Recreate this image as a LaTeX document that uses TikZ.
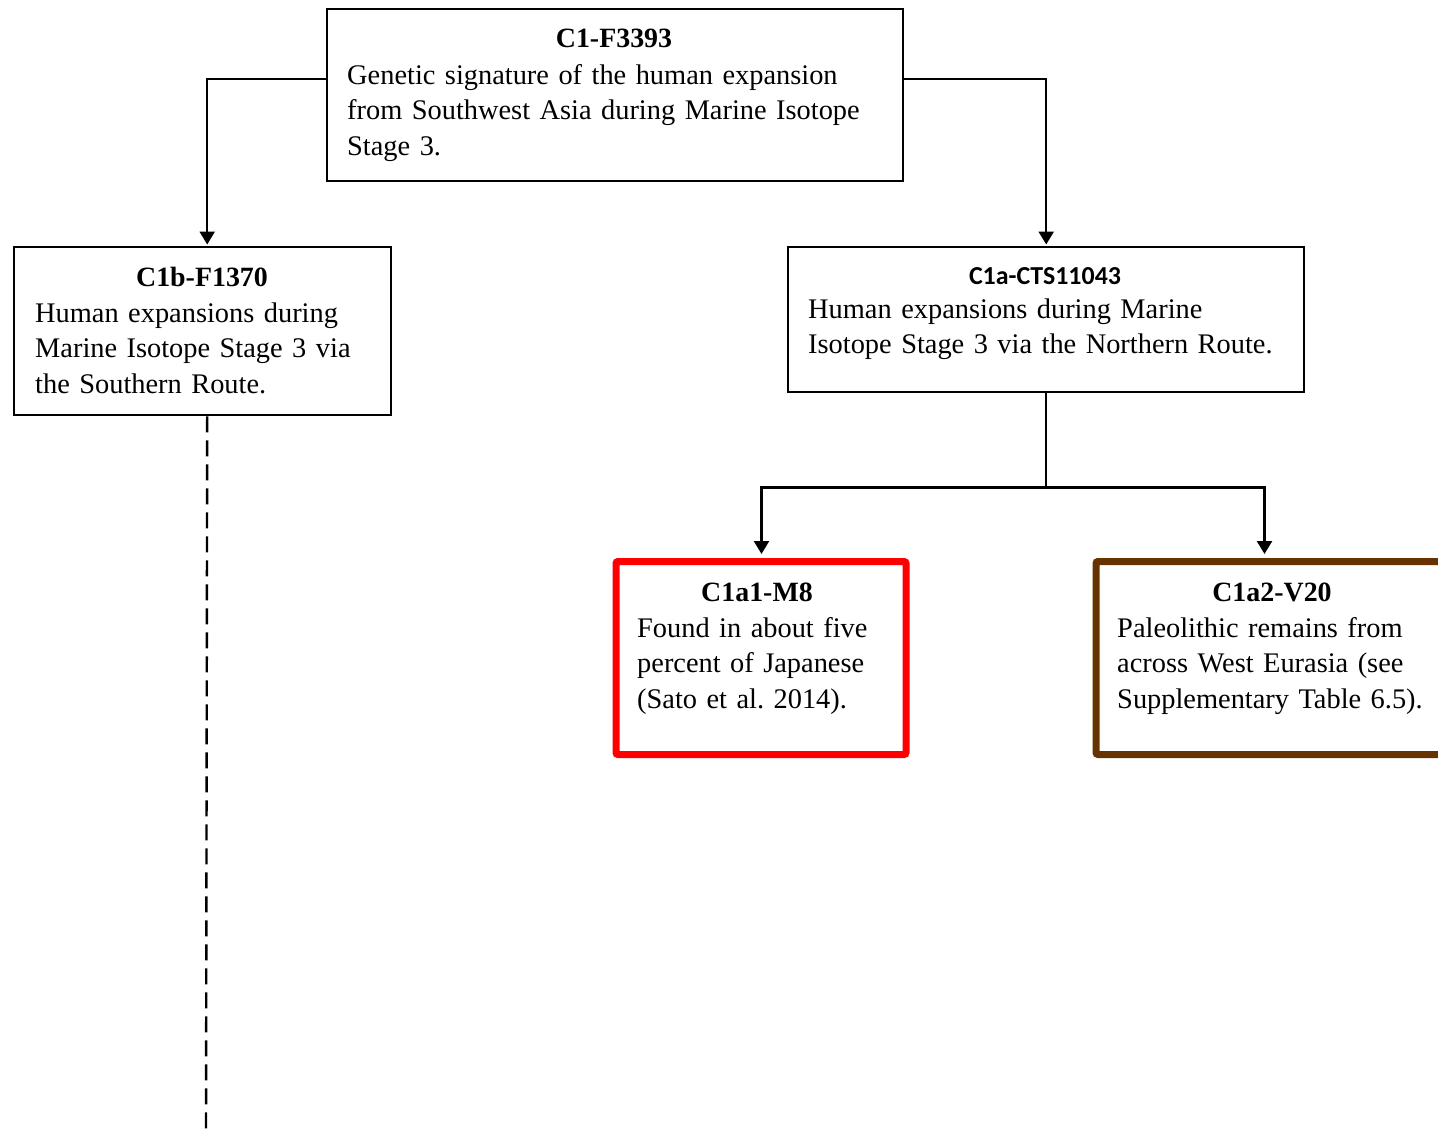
\documentclass[tikz,border=0pt]{standalone}
\usepackage{fontspec}
\setmainfont{Liberation Serif}
\newfontfamily\calib{Carlito}
\usetikzlibrary{arrows.meta}
\definecolor{brownc}{RGB}{102,51,0}
\definecolor{redc}{RGB}{255,0,0}
\begin{document}
\frenchspacing
\begin{tikzpicture}[x=1bp,y=-1bp,
  box/.style={draw=black,line width=2.4bp,rectangle,inner sep=0,anchor=north west},
  ttl/.style={font=\fontsize{28}{36}\selectfont\bfseries,anchor=base,inner sep=0},
  body/.style={font=\fontsize{28.5}{36}\selectfont\frenchspacing,anchor=base west,inner sep=0,text width=#1,align=left},
  conn/.style={line width=2.4bp,-{Triangle[length=13bp,width=15bp]}},
  line/.style={line width=2.4bp},
]
\useasboundingbox (0,0) rectangle (1438,1131);
\clip (0,0) rectangle (1438,1131);

% boxes
\node[box,minimum width=576bp,minimum height=172bp] (top) at (326,8) {};
\node[box,minimum width=377bp,minimum height=168bp] (c1b) at (13,246) {};
\node[box,minimum width=516bp,minimum height=145bp] (c1a) at (787,246) {};
\node[box,draw=redc,line width=7bp,rounded corners=2bp,minimum width=290bp,minimum height=193bp] (c1a1) at (612.5,558) {};
\node[box,draw=brownc,line width=7bp,rounded corners=2bp,minimum width=360bp,minimum height=193bp] (c1a2) at (1092.5,558) {};

% texts
\node[ttl] (ttop) at (614,47) {C1-F3393};
\node[body=580bp] (btop) at (347,84) {Genetic signature of the human expansion\\from Southwest Asia during Marine Isotope\\Stage 3.};
\node[ttl] (tc1b) at (202,286) {C1b-F1370};
\node[body=360bp] (bc1b) at (35,322) {Human expansions during\\Marine Isotope Stage 3 via\\the Southern Route.};
\node[ttl,font=\fontsize{26}{36}\selectfont\calib\bfseries] (tc1a) at (1045,284) {C1a-CTS11043};
\node[body=490bp] (bc1a) at (808,318) {Human expansions during Marine\\Isotope Stage 3 via the Northern Route.};
\node[ttl] (tc1a1) at (757,601) {C1a1-M8};
\node[body=270bp] (bc1a1) at (637,637) {Found in about five\\percent of Japanese\\(Sato et al. 2014).};
\node[ttl] (tc1a2) at (1272,601) {C1a2-V20};
\node[body=320bp] (bc1a2) at (1117,637) {Paleolithic remains from\\across West Eurasia (see\\Supplementary Table 6.5).};

% connectors
\draw[conn] ([yshift=16bp]top.west) -| ([xshift=4.5bp,yshift=1.5bp]c1b.north);
\draw[conn] ([yshift=16bp]top.east) -| ([yshift=1.5bp]c1a.north);
\draw[line] (c1a.south) -- ++(0,94) coordinate (j);
\draw[conn] (j) -| ([xshift=0.5bp,yshift=4bp]c1a1.north);
\draw[conn] (j) -| ([xshift=-11.5bp,yshift=4bp]c1a2.north);
\coordinate (dend) at (206,1140);
\draw[line,dash pattern=on 16bp off 8bp] ([xshift=4.5bp]c1b.south) -- (dend);
\end{tikzpicture}
\end{document}
